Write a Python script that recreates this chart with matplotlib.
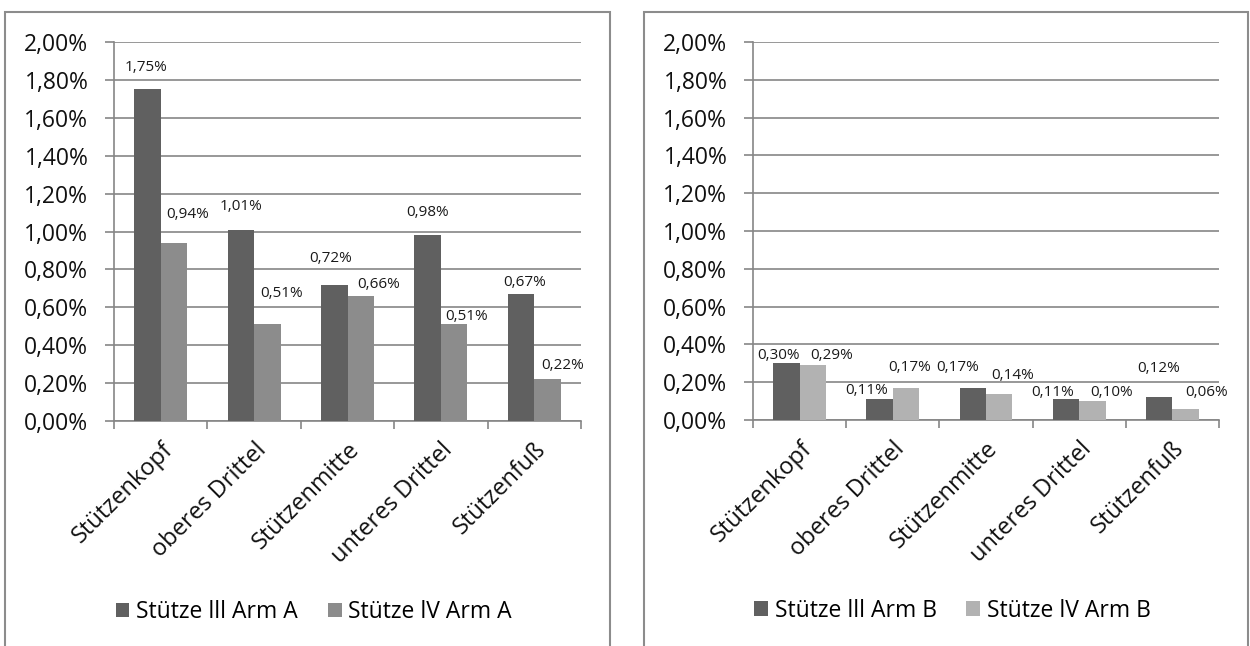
import matplotlib
import numpy as np

matplotlib.use("Agg")
import matplotlib.pyplot as plt  # noqa: E402
from matplotlib.patches import Rectangle  # noqa: E402

abschnitte = ["Stützenkopf", "oberes Drittel", "Stützenmitte", "unteres Drittel", "Stützenfuß"]

# Verformung in %
stuetze3_arm_a = [1.75, 1.01, 0.72, 0.98, 0.67]
stuetze4_arm_a = [0.94, 0.51, 0.66, 0.51, 0.22]
stuetze3_arm_b = [0.30, 0.11, 0.17, 0.11, 0.12]
stuetze4_arm_b = [0.29, 0.17, 0.14, 0.10, 0.06]

y_ticks = [0.0, 0.2, 0.4, 0.6, 0.8, 1.0, 1.2, 1.4, 1.6, 1.8, 2.0]

# Verschiebung der Beschriftungen (Pixel, relativ zur Balkenoberkante)
off3_a = [(-1, 22), (0, 23), (-4, 26), (0, 23), (4, 12)]
off4_a = [(14, 28), (14, 31), (18, 11), (12, 8), (15, 14)]
off3_b = [(-8, 8), (-13, 9), (-15, 20), (-13, 7), (-1, 29)]
off4_b = [(19, 10), (4, 20), (13, 18), (19, 9), (21, 16)]

plt.rcParams["font.family"] = ["Open Sans", "DejaVu Sans"]

DUNKEL = "#606060"
GRAU = "#8c8c8c"
HELL = "#b2b2b2"
LINIE = "#868686"

W, H = 1250, 646
fig = plt.figure(figsize=(W / 100, H / 100), dpi=100)


def fmt(v):
    return f"{v:.2f}%".replace(".", ",")


def diagramm(ax, s3, s4, name3, name4, farbe4, off3, off4):
    ind = np.arange(len(abschnitte))
    width = 0.284
    b3 = ax.bar(ind - width / 2, s3, width, color=DUNKEL, zorder=3)
    b4 = ax.bar(ind + width / 2, s4, width, color=farbe4, zorder=3)

    for bars, werte, offs in ((b3, s3, off3), (b4, s4, off4)):
        for bar, v, (dx, dy) in zip(bars, werte, offs):
            ax.annotate(fmt(v), (bar.get_x() + bar.get_width() / 2, v),
                        xytext=(dx, dy), textcoords="offset pixels",
                        ha="center", va="center", fontsize=11, color="#1a1a1a")

    ax.set_xlim(-0.5, len(abschnitte) - 0.5)
    ax.set_ylim(0, 2.0)
    ax.set_yticks(y_ticks)
    ax.set_yticklabels([fmt(v) for v in y_ticks], fontsize=16.5, color="#111111")
    ax.yaxis.grid(True, color=LINIE, linewidth=1.2, zorder=0)
    ax.set_axisbelow(True)

    ax.set_xticks(ind)
    ax.set_xticklabels(abschnitte, rotation=45, ha="right", rotation_mode="anchor",
                       fontsize=17, color="#111111")
    ax.set_xticks(np.arange(-0.5, len(abschnitte)), minor=True)
    ax.tick_params(axis="x", which="major", length=0, pad=12)
    ax.tick_params(axis="x", which="minor", length=6, width=1.2, color=LINIE)
    ax.tick_params(axis="y", length=6.5, width=1.2, color=LINIE, pad=12)

    for s in ("top", "right"):
        ax.spines[s].set_visible(False)
    for s in ("left", "bottom"):
        ax.spines[s].set_color(LINIE)
        ax.spines[s].set_linewidth(1.2)

    ax.legend((b3[0], b4[0]), (name3, name4), loc="center", bbox_to_anchor=(0.428, -0.504),
              ncol=2, frameon=False, fontsize=16.5, handlelength=0.6, handleheight=0.6,
              handletextpad=0.3, columnspacing=1.3)


ax1 = fig.add_axes([114 / W, 225 / H, 467 / W, 379 / H])
ax2 = fig.add_axes([753 / W, 226 / H, 466 / W, 378 / H])

diagramm(ax1, stuetze3_arm_a, stuetze4_arm_a, "Stütze lll Arm A", "Stütze lV Arm A",
         GRAU, off3_a, off4_a)
diagramm(ax2, stuetze3_arm_b, stuetze4_arm_b, "Stütze lll Arm B", "Stütze lV Arm B",
         HELL, off3_b, off4_b)

# Rahmen der beiden Diagramme
for x0, x1 in ((5, 610), (644, 1248)):
    fig.add_artist(Rectangle((x0 / W, -0.05), (x1 - x0) / W, (H - 12) / H + 0.05,
                             transform=fig.transFigure, fill=False,
                             edgecolor=GRAU, linewidth=1.5))

plt.savefig("out.png", dpi=100)
